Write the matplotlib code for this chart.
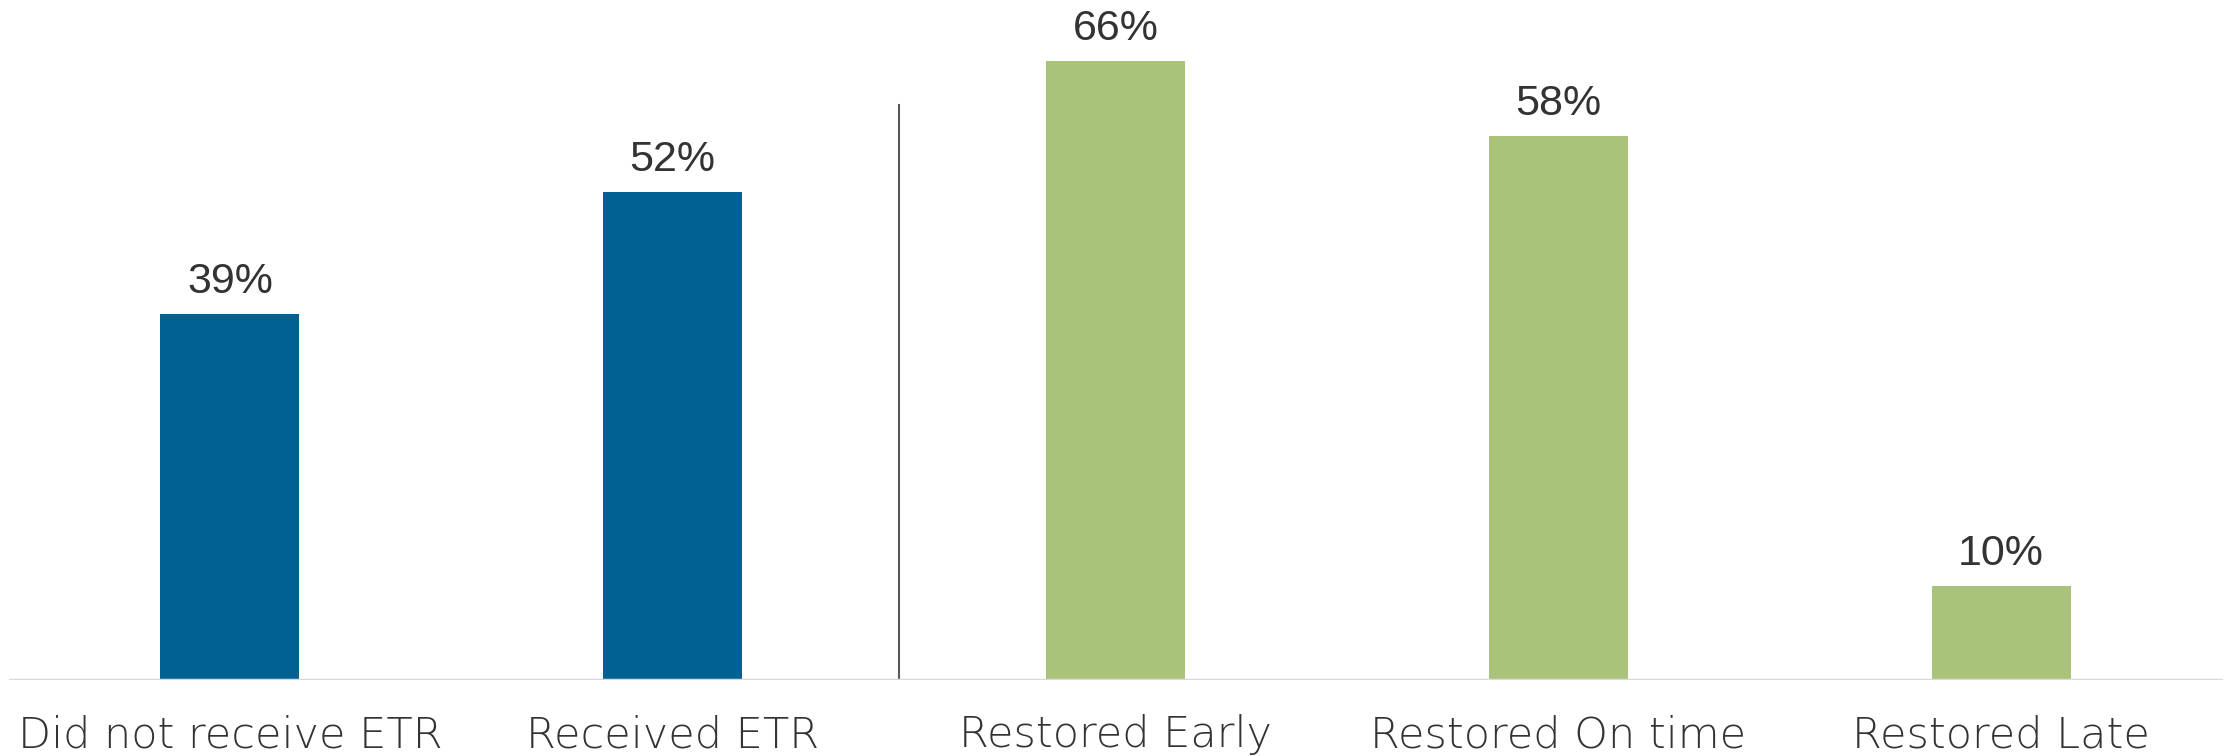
import matplotlib.pyplot as plt

categories = ['Did not receive ETR', 'Received ETR', 'Restored Early',
              'Restored On time', 'Restored Late']
values = [39, 52, 66, 58, 10]
colors = ['#006192', '#006192', '#A9C47A', '#A9C47A', '#A9C47A']

fig = plt.figure(figsize=(22.26, 7.56), dpi=100)
ax = fig.add_axes([8.5 / 2226, 1 - 680 / 756, 2214 / 2226, 680 / 756])

x = range(len(categories))
bars = ax.bar(x, values, width=0.314, color=colors, zorder=2)

for b, v in zip(bars, values):
    ax.annotate(f'{v}%', (b.get_x() + b.get_width() / 2, v),
                xytext=(0, 12), textcoords='offset pixels',
                ha='center', va='bottom', fontsize=31,
                family='Liberation Sans', color='#333333')

# divider between the ETR group and the restoration group
ax.plot([1.51, 1.51], [0, 61.3], color='#595959', lw=1.5, zorder=1)

ax.set_xlim(-0.5, 4.5)
ax.set_ylim(0, 72.45)
ax.axhline(0, color='#D9D9D9', lw=2.5, zorder=3)

ax.set_xticks(list(x))
ax.set_xticklabels(categories, fontsize=31, family='DejaVu Sans',
                   weight='light', color='#333333')
ax.tick_params(axis='x', length=0, pad=24.5)
ax.set_yticks([])
for s in ax.spines.values():
    s.set_visible(False)

fig.savefig('out.png', dpi=100)
